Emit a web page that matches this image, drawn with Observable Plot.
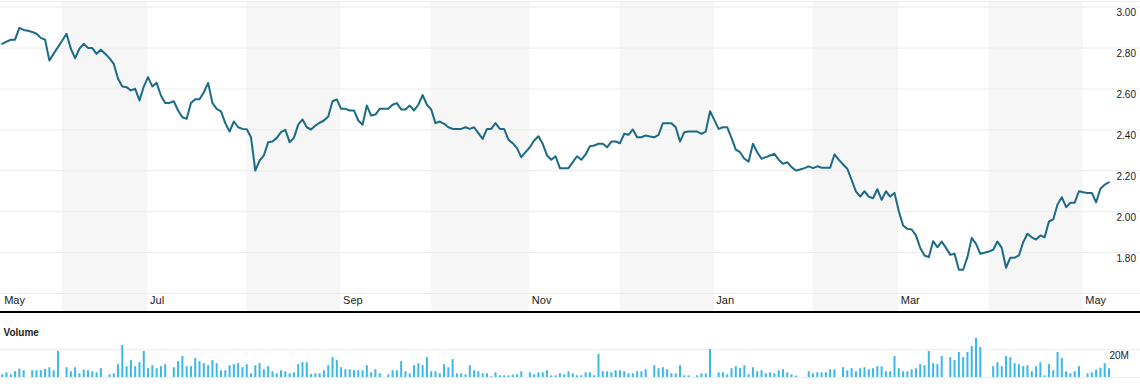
<!DOCTYPE html>
<html>
<head>
<meta charset="utf-8">
<script src="https://cdn.jsdelivr.net/npm/d3@7"></script>
<script src="https://cdn.jsdelivr.net/npm/@observablehq/plot@0.6"></script>
<style>
  html, body { margin: 0; padding: 0; background: #fff; }
  #chart { width: 1140px; }
  #chart svg { display: block; }
  .sep { height: 2px; background: #000; }
</style>
</head>
<body>
<div id="chart"></div>
<script>
// Daily closing price, one value per trading day (index 0 = first day shown)
const price = [
  2.821, 2.832, 2.841, 2.841, 2.899, 2.889, 2.885, 2.879, 2.870, 2.850,
  2.841, 2.739, 2.773, 2.805, 2.837, 2.870, 2.797, 2.751, 2.797, 2.821,
  2.801, 2.800, 2.772, 2.792, 2.772, 2.751, 2.723, 2.650, 2.612, 2.609,
  2.593, 2.601, 2.544, 2.612, 2.658, 2.612, 2.630, 2.568, 2.532, 2.532,
  2.540, 2.495, 2.462, 2.454, 2.531, 2.550, 2.550, 2.584, 2.630, 2.532,
  2.503, 2.491, 2.433, 2.392, 2.441, 2.413, 2.405, 2.403, 2.364, 2.201,
  2.250, 2.275, 2.340, 2.343, 2.361, 2.389, 2.400, 2.340, 2.361, 2.426,
  2.451, 2.413, 2.402, 2.421, 2.435, 2.446, 2.466, 2.540, 2.549, 2.503,
  2.503, 2.495, 2.495, 2.446, 2.425, 2.519, 2.470, 2.475, 2.503, 2.503,
  2.503, 2.523, 2.531, 2.500, 2.500, 2.519, 2.495, 2.523, 2.570, 2.523,
  2.500, 2.433, 2.441, 2.430, 2.413, 2.405, 2.405, 2.405, 2.413, 2.405,
  2.413, 2.384, 2.356, 2.405, 2.405, 2.433, 2.405, 2.405, 2.352, 2.335,
  2.311, 2.267, 2.291, 2.315, 2.348, 2.369, 2.332, 2.275, 2.254, 2.271,
  2.213, 2.213, 2.213, 2.242, 2.271, 2.254, 2.280, 2.320, 2.324, 2.332,
  2.332, 2.315, 2.343, 2.343, 2.335, 2.381, 2.376, 2.402, 2.364, 2.364,
  2.373, 2.368, 2.364, 2.376, 2.433, 2.433, 2.433, 2.413, 2.343, 2.389,
  2.392, 2.392, 2.392, 2.381, 2.392, 2.491, 2.449, 2.405, 2.413, 2.413,
  2.361, 2.304, 2.291, 2.259, 2.245, 2.332, 2.291, 2.259, 2.267, 2.275,
  2.283, 2.254, 2.234, 2.242, 2.218, 2.201, 2.206, 2.213, 2.222, 2.213,
  2.222, 2.215, 2.215, 2.215, 2.280, 2.255, 2.231, 2.210, 2.156, 2.099,
  2.074, 2.100, 2.074, 2.066, 2.110, 2.058, 2.100, 2.074, 2.092, 2.002,
  1.933, 1.916, 1.913, 1.884, 1.823, 1.786, 1.778, 1.856, 1.826, 1.854,
  1.823, 1.789, 1.794, 1.716, 1.716, 1.778, 1.872, 1.843, 1.794, 1.799,
  1.805, 1.814, 1.854, 1.823, 1.726, 1.775, 1.775, 1.786, 1.851, 1.892,
  1.875, 1.864, 1.884, 1.875, 1.952, 1.962, 2.035, 2.071, 2.022, 2.044,
  2.044, 2.100, 2.095, 2.092, 2.092, 2.046, 2.112, 2.132, 2.144
];

// Daily volume in millions (null = no bar)
const volume = [
  1.95, 3.41, 1.95, 4.15, 6.10, 4.88, null, 4.88, 4.88, 4.88,
  5.85, 7.07, 4.88, 18.78, null, 7.07, 4.15, 7.07, 2.68, 5.37,
  4.88, 4.15, 3.41, 6.34, null, 1.95, 2.68, 9.27, 23.17, 7.80,
  12.20, 7.80, 10.73, 18.78, 6.34, 8.54, 6.34, 7.80, 9.27, null,
  7.07, 11.46, 15.12, 7.80, 7.80, 13.66, 11.46, 10.00, 8.54, 12.20,
  10.00, 4.88, 4.88, 8.54, 9.27, 10.00, 7.07, 9.27, 2.68, 8.54,
  10.00, 5.61, 7.80, 4.15, 2.68, 4.88, 4.15, 2.68, 3.41, 9.27,
  10.73, 10.73, 2.20, 2.68, 2.68, 4.88, 8.54, 14.39, 12.20, 7.07,
  5.61, 5.61, 4.88, 4.88, 4.88, 8.54, 3.41, 5.61, 2.68, null,
  1.95, 4.88, 4.88, 11.46, 4.15, 2.68, 8.54, 10.00, 8.54, 14.39,
  4.15, 4.15, 2.68, 9.27, 7.07, 12.93, 2.68, 2.68, 1.95, 8.54,
  4.88, 4.15, 2.68, 2.68, 0.49, 3.41, 1.22, 1.22, 1.22, 1.71,
  1.95, 4.15, null, 3.41, 1.95, 3.41, 3.41, 4.88, 1.22, 1.22,
  2.68, 1.95, 4.15, 2.68, 1.22, 1.22, 3.41, 3.41, 1.22, 16.59,
  4.15, 4.15, 3.41, 4.88, 4.88, 4.15, 2.68, 2.68, 4.15, 4.15,
  5.61, null, 8.54, 6.34, 7.07, 5.61, 2.68, 2.68, 8.54, 1.22,
  1.22, null, 1.22, 2.68, 2.68, 20.24, null, 3.41, 3.41, 1.95,
  6.34, 7.80, 6.34, 8.54, 1.95, 7.07, 4.15, 4.88, 2.68, 3.41,
  2.68, 4.88, 5.61, 3.41, 1.95, 0.98, null, null, 4.15, 2.68,
  3.41, 3.41, 3.41, 5.61, 5.61, null, 7.07, 4.88, 6.34, 4.15,
  6.34, 7.07, 5.61, 6.34, 7.80, 7.80, 4.15, 4.15, 15.12, 6.34,
  4.15, 4.15, 5.61, 6.34, 9.27, 8.54, 18.78, 10.00, 9.27, 15.12,
  null, 14.39, 12.20, 18.05, 14.39, 18.05, 22.44, 28.29, 21.71, null,
  null, 7.80, 10.73, 7.80, 15.12, 14.39, 10.00, 9.27, 7.80, 8.54,
  4.15, 7.80, 10.73, 1.22, 9.27, 4.88, 18.05, 13.66, 4.15, 2.68,
  4.15, 7.80, null, 2.68, 3.41, 5.30, 6.70, 10.00, 6.30
];

// Months: name and index of the first trading day of each month
const monthNames = ["May", "Jun", "Jul", "Aug", "Sep", "Oct", "Nov", "Dec", "Jan", "Feb", "Mar", "Apr", "May"];
const monthStart = [0, 14, 34, 57, 79, 100, 123, 144, 166, 189, 209, 230, 252];

// Price gridlines and labelled ticks
const priceGrid = [1.6, 1.8, 2.0, 2.2, 2.4, 2.6, 2.8, 3.0];
const priceTicks = [1.8, 2.0, 2.2, 2.4, 2.6, 2.8, 3.0];
const volumeGrid = [0, 20];
const volumeTicks = [20];

const priceData = price.map((p, i) => ({i, p}));
const volumeData = volume.map((v, i) => ({i, v})).filter(d => d.v != null);
const bands = monthStart.slice(0, -1)
  .map((s, k) => ({k, x1: s, x2: monthStart[k + 1]}))
  .filter(d => d.k % 2 === 1);
const monthLabels = monthStart.map((s, k) => ({i: s, name: monthNames[k]}))
  .filter((d, k) => k % 2 === 0);

const lastIndex = price.length - 1;
const xScale = {domain: [0, lastIndex], range: [1.7, 1108.5], axis: null};
const font = "'Liberation Sans', Arial, Helvetica, sans-serif";

const pricePlot = Plot.plot({
  width: 1140,
  height: 311,
  marginTop: 1,
  marginBottom: 0,
  marginLeft: 0,
  marginRight: 0,
  style: {fontFamily: font, fontSize: "10px", background: "#fff", color: "#1a1a1a"},
  x: xScale,
  y: {domain: [1.6, 3.0], range: [293, 6.7], axis: null},
  marks: [
    Plot.rect(bands, {x1: "x1", x2: "x2", fill: "#f6f6f6"}),
    Plot.ruleY(priceGrid, {stroke: "#ececec", strokeWidth: 1}),
    Plot.frame({anchor: "top", stroke: "#ececec"}),
    Plot.line(priceData, {x: "i", y: "p", stroke: "#1b6a87", strokeWidth: 2, strokeLinejoin: "round"}),
    Plot.text(priceTicks, {y: d => d, text: d => d.toFixed(2), frameAnchor: "right", dx: -24, dy: 6, textAnchor: "start", fill: "#1a1a1a"}),
    Plot.text(monthLabels, {x: "i", text: "name", frameAnchor: "bottom", dy: -8, dx: 2, textAnchor: "start", fill: "#1a1a1a", fontSize: 11})
  ]
});

const volumePlot = Plot.plot({
  width: 1140,
  height: 79,
  marginTop: 0,
  marginBottom: 0,
  marginLeft: 0,
  marginRight: 0,
  style: {fontFamily: font, fontSize: "10px", background: "#fff", color: "#1a1a1a"},
  x: xScale,
  y: {domain: [0, 20], range: [64, 36.3], axis: null},
  marks: [
    Plot.ruleY(volumeGrid, {stroke: "#ececec", strokeWidth: 1}),
    Plot.ruleX(volumeData, {x: "i", y1: 0, y2: "v", stroke: "#3bb8e6", strokeWidth: 2}),
    Plot.text(["Volume"], {frameAnchor: "top-left", dx: 3, dy: 15, text: d => d, textAnchor: "start", fontWeight: "bold", fill: "#1a1a1a"}),
    Plot.text(volumeTicks, {y: d => d, text: d => d + "M", frameAnchor: "right", dx: -31, dy: 6, textAnchor: "start", fill: "#1a1a1a"})
  ]
});

const root = document.getElementById("chart");
root.appendChild(pricePlot);
const sep = document.createElement("div");
sep.className = "sep";
root.appendChild(sep);
root.appendChild(volumePlot);
</script>
</body>
</html>
